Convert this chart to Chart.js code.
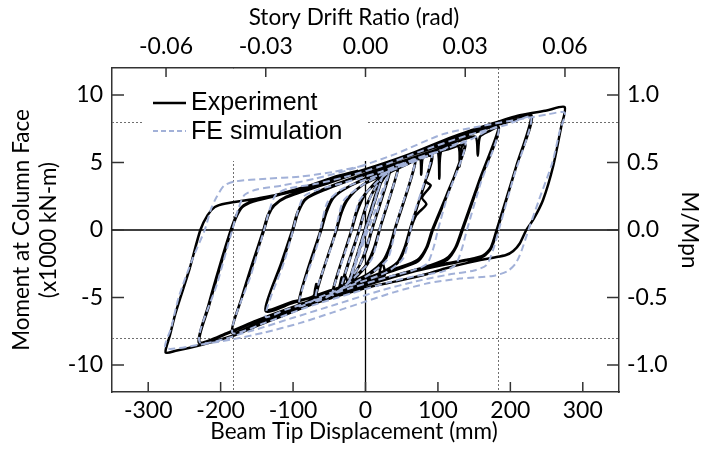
<!DOCTYPE html>
<html>
<head>
<meta charset="utf-8">
<script src="https://cdn.jsdelivr.net/npm/chart.js@4.4.1/dist/chart.umd.min.js"></script>
<style>
  html, body { margin: 0; padding: 0; background: #fff; }
  #wrap { width: 709px; height: 457px; }
</style>
</head>
<body>
<div id="wrap"><canvas id="c" width="709" height="457"></canvas></div>
<script>
/* Beam-to-column test: moment vs beam tip displacement, experiment vs FE */

// axis ticks
var DISP_TICKS = [-300, -200, -100, 0, 100, 200, 300];       // mm
var DRIFT_TICKS = [-0.06, -0.03, 0, 0.03, 0.06];              // rad
var MOMENT_TICKS = [-10, -5, 0, 5, 10];                       // x1000 kN-m
var RATIO_TICKS = [-1.0, -0.5, 0, 0.5, 1.0];                  // M/Mpn
var BEAM_LENGTH = 4590;   // mm of tip displacement per rad of drift
var MPN = 10;             // x1000 kN-m, M/Mpn = 1.0
var LIMIT_DRIFT = 0.04;   // rad, dotted reference
var LIMIT_RATIO = 0.8;    // M/Mpn, dotted reference

// experiment, [displacement mm, moment x1000 kN-m], in loading order
var expStage1 = [[0,0],[17,3.0],[-17,-3.0],[17,3.1],[-17,-2.9],[23,3.9],[-23,-3.8],[23,3.8],[-23,-3.9]];
var expStage2 = [[0,0.2],[15,2.8],[25,3.8],[34,4.4],[9,0],[1,-1.5],[-8,-2.6],[-20,-3.6],[-34,-4.3],[-9,0],[-1,1.5],[8,2.6],[20,3.7],[34,4.4],
  [9,0.1],[0,-1.5],[-9,-2.7],[-20,-3.6],[-34,-4.4],[-9,-0.1],[-1,1.4],[8,2.6],[20,3.6],[32,4.3]];
var expStage3 = [[46,4.8],[19,0],[12,-1.3],[2,-2.5],[-15,-3.5],[-30,-4.1],[-46,-4.7],[-19,0],[-12,1.3],[-2,2.5],[15,3.6],[30,4.2],[46,4.8],
  [20,0.1],[13,-1.3],[3,-2.5],[-15,-3.6],[-30,-4.2],[-46,-4.8],[-20,-0.1],[-13,1.3],[-3,2.5],[15,3.5],[35,4.3],[55,4.8]];
var expStage4 = [[69,5.1],[40,0],[33,-1.3],[24,-2.3],[5,-3.2],[-25,-4.0],[-50,-4.6],[-69,-5.0],[-40,0],[-33,1.3],[-24,2.3],[-5,3.3],[25,4.1],[50,4.7],[69,5.1],
  [41,0.1],[34,-1.3],[25,-2.4],[5,-3.3],[-25,-4.1],[-50,-4.7],[-69,-5.1],[-41,-0.1],[-34,1.3],[-25,2.3],[-5,3.3],[25,4.2],[55,4.9],[75,5.3]];
var expStage5 = [[92,5.5],[61,0],[54,-1.3],[44,-2.4],[20,-3.2],[-20,-4.0],[-35,-4.3],[-33,-3.5],[-38,-4.4],[-60,-4.8],[-92,-5.4],[-61,0],[-54,1.3],[-44,2.4],[-20,3.3],[20,4.2],[60,5.0],[92,5.5],
  [86,4.1],[83,3.6],[90,3.3],[78,2.4],[84,1.9],[70,1.1],[62,0],[55,-1.3],[45,-2.4],[20,-3.3],[23,-2.4],[26,-3.4],[-20,-4.1],[-60,-4.9],[-92,-5.5],
  [-62,0],[-55,1.3],[-45,2.4],[-20,3.3],[20,4.3],[60,5.1],[75,5.4],[77,4.1],[80,5.5],[100,5.8]];
var expStage6 = [[115,6.0],[138,6.3],[112,2.6],[92,0],[84,-1.3],[72,-2.2],[45,-2.8],[0,-3.6],[-50,-4.5],[-70,-4.8],[-68,-4.0],[-72,-4.9],[-100,-5.3],[-138,-5.9],
  [-115,-2.4],[-100,0],[-93,1.3],[-82,2.3],[-55,3.0],[-10,3.9],[40,4.8],[90,5.6],[100,5.8],[102,3.8],[105,5.9],[128,6.2],[130,4.7],[133,6.2],[138,6.3],
  [113,2.6],[93,0],[85,-1.3],[73,-2.3],[45,-2.9],[0,-3.7],[-30,-4.2],[-28,-3.4],[-25,-4.2],[-50,-4.6],[-100,-5.4],[-138,-6.0],
  [-116,-2.4],[-101,0],[-94,1.3],[-83,2.3],[-55,3.1],[-10,4.0],[40,4.9],[90,5.8],[130,6.6],[152,6.9],[155,5.5],[158,6.9],[170,7.3]];
var expStage7 = [[184,7.6],[158,3.8],[133,0],[124,-1.3],[112,-2.1],[90,-2.6],[45,-3.3],[0,-4.0],[-50,-4.9],[-100,-5.8],[-145,-6.8],[-184,-7.6],
  [-172,-5.2],[-156,-2.6],[-140,0],[-134,1.1],[-126,1.8],[-110,2.4],[-50,3.5],[0,4.4],[50,5.3],[100,6.2],[140,7.0],[184,7.6],
  [159,3.8],[134,0],[125,-1.3],[113,-2.2],[90,-2.7],[45,-3.4],[0,-4.1],[-50,-5.0],[-100,-5.9],[-145,-6.9],[-184,-7.65],
  [-172,-5.2],[-157,-2.6],[-141,0],[-135,1.1],[-127,1.8],[-110,2.45],[-50,3.6],[0,4.5],[50,5.4],[100,6.4],[150,7.4],[190,7.9],[210,8.2]];
var expStage8 = [[229,8.45],[208,4.7],[181,0],[173,-1.3],[162,-1.9],[140,-2.2],[110,-2.5],[60,-3.1],[0,-4.0],[-50,-4.8],[-100,-5.7],[-150,-6.7],[-190,-7.6],[-229,-8.3],
  [-216,-5.6],[-200,-2.6],[-185,0],[-178,1.0],[-170,1.7],[-155,2.1],[-130,2.45],[-60,3.5],[0,4.4],[60,5.5],[120,6.8],[170,7.7],[229,8.5],
  [208,4.7],[182,0],[174,-1.3],[163,-1.95],[140,-2.25],[110,-2.55],[60,-3.15],[0,-4.05],[-50,-4.85],[-100,-5.75],[-150,-6.75],[-190,-7.65],[-230,-8.35],
  [-217,-5.6],[-201,-2.6],[-186,0],[-179,1.0],[-171,1.7],[-156,2.15],[-130,2.5],[-60,3.55],[0,4.5],[60,5.6],[120,6.9],[170,7.8],[213,8.5],[250,8.85]];
var expStage9 = [[275,9.1],[270,7.6],[259,4.7],[245,2.2],[232,0.8],[222,0],[213,-1.0],[204,-1.55],[194,-1.85],[176,-2.05],[144,-2.4],[110,-2.85],[89,-3.2],
  [47,-3.75],[0,-4.3],[-68,-5.4],[-114,-6.35],[-147,-7.05],[-184,-7.85],[-230,-8.55],[-262,-8.95],[-276,-9.07],
  [-270,-7.8],[-262,-6.1],[-243,-2.9],[-228,0],[-218,1.1],[-208,1.7],[-193,1.96],[-147,2.35],[-101,2.85],[-45,3.9],[-10,4.4]];

// FE simulation, same protocol
var feStage1 = [[0,0],[17,3.0],[-17,-3.0],[23,3.9],[-23,-3.9],[34,4.5]];
var feStage2 = [[10,0.3],[2,-1.2],[-10,-2.8],[-34,-4.4],[-10,-0.3],[-2,1.2],[10,2.8],[28,4.2],[46,4.8],[22,0.6],[16,-0.8],[8,-2.2],[-15,-3.5],[-30,-4.2],[-46,-4.8],
  [-22,-0.6],[-16,0.8],[-8,2.2],[15,3.5],[30,4.2],[50,4.8]];
var feStage3 = [[69,5.2],[44,0.7],[38,-0.8],[30,-2.2],[5,-3.3],[-30,-4.3],[-69,-5.2],[-44,-0.7],[-38,0.8],[-30,2.2],[-5,3.3],[30,4.3],[60,5.0],[75,5.3]];
var feStage4 = [[92,5.6],[66,1.0],[60,-0.6],[52,-2.1],[30,-3.1],[-20,-4.1],[-60,-4.9],[-92,-5.6],[-66,-1.0],[-60,0.6],[-52,2.1],[-30,3.1],[20,4.1],[60,4.9],[100,5.8]];
var feStage5 = [[138,6.5],[112,2.3],[100,0],[94,-1.3],[85,-2.5],[65,-3.0],[30,-3.5],[-20,-4.3],[-70,-5.2],[-110,-5.9],[-138,-6.4],
  [-112,-2.3],[-100,0],[-94,1.3],[-85,2.5],[-65,3.0],[-30,3.5],[20,4.3],[70,5.3],[110,6.0],[145,6.7]];
var feStage6 = [[184,7.6],[158,3.3],[140,0],[133,-1.4],[124,-2.6],[105,-3.1],[70,-3.4],[30,-3.9],[-20,-4.7],[-80,-5.7],[-140,-6.9],[-184,-7.6],
  [-158,-3.3],[-140,0],[-133,1.4],[-124,2.6],[-105,3.1],[-70,3.4],[-30,3.9],[20,4.7],[80,5.9],[140,7.0],[195,7.8]];
var feStage7 = [[229,8.35],[205,4.0],[184,0],[176,-1.5],[167,-2.6],[150,-3.0],[115,-3.3],[70,-3.8],[20,-4.5],[-40,-5.5],[-100,-6.5],[-160,-7.5],[-229,-8.3],
  [-205,-4.0],[-184,0],[-176,1.5],[-167,2.6],[-150,3.0],[-115,3.3],[-70,3.8],[-20,4.5],[40,5.6],[107,7.1],[160,7.7],[229,8.35]];
var feStage8 = [[250,8.55],[275,8.7],[268,7.3],[258,5.0],[240,2.3],[225,0],[215,-1.6],[207,-2.5],[196,-3.05],[176,-3.4],[130,-3.6],[86,-3.95],[40,-4.6],
  [0,-5.3],[-45,-6.1],[-91,-6.9],[-140,-7.6],[-184,-8.1],[-230,-8.5],[-276,-8.75],
  [-268,-7.2],[-258,-5.0],[-240,-2.3],[-222,0],[-213,1.6],[-205,2.5],[-195,3.3],[-180,3.6],[-137,3.8],[-91,3.95],[-45,4.3],[0,4.8]];

function toPoints(stages) {
  var out = [];
  stages.forEach(function (s) { s.forEach(function (p) { out.push({ x: p[0], y: p[1] }); }); });
  return out;
}

var expPoints = toPoints([expStage1, expStage2, expStage3, expStage4, expStage5, expStage6, expStage7, expStage8, expStage9]);
var fePoints = toPoints([feStage1, feStage2, feStage3, feStage4, feStage5, feStage6, feStage7, feStage8]);

var TICK_FONT = { family: "Lato", size: 23 };
var TITLE_FONT = { family: "Lato", size: 22.5 };
var LEGEND_FONT = '25px "Liberation Sans"';
var FE_COLOR = "#a2b1d8";

function fixedTicks(list) {
  return function (scale) { scale.ticks = list.map(function (v) { return { value: v }; }); };
}

// reference lines, zero lines, legend backdrop, inward ticks, legend
var decor = {
  id: "decor",
  beforeDatasetsDraw: function (chart) {
    var ctx = chart.ctx, a = chart.chartArea, sx = chart.scales.x, sy = chart.scales.y;
    function seg(x1, y1, x2, y2) { ctx.beginPath(); ctx.moveTo(x1, y1); ctx.lineTo(x2, y2); ctx.stroke(); }
    ctx.save();
    ctx.strokeStyle = "#6f6f6f"; ctx.lineWidth = 1; ctx.setLineDash([2, 2]);
    [-1, 1].forEach(function (k) {
      var px = Math.round(sx.getPixelForValue(k * LIMIT_DRIFT * BEAM_LENGTH)) + 0.5;
      seg(px, a.top, px, a.bottom);
      var py = Math.round(sy.getPixelForValue(k * LIMIT_RATIO * MPN)) + 0.5;
      seg(a.left, py, a.right, py);
    });
    ctx.setLineDash([]); ctx.strokeStyle = "#000"; ctx.lineWidth = 1.3;
    var x0 = sx.getPixelForValue(0), y0 = sy.getPixelForValue(0);
    seg(x0, a.top, x0, a.bottom);
    seg(a.left, y0, a.right, y0);
    // legend box hides the guide lines behind it
    ctx.fillStyle = "#fff";
    ctx.fillRect(142, a.top + 1, 226, 92);
    ctx.restore();
  },
  afterDatasetsDraw: function (chart) {
    var ctx = chart.ctx, a = chart.chartArea, s = chart.scales;
    ctx.save();
    ctx.strokeStyle = "#333"; ctx.lineWidth = 1.5;
    function seg(x1, y1, x2, y2) { ctx.beginPath(); ctx.moveTo(x1, y1); ctx.lineTo(x2, y2); ctx.stroke(); }
    s.x.ticks.forEach(function (t) { var p = s.x.getPixelForValue(t.value); seg(p, a.bottom, p, a.bottom - 10); });
    s.x2.ticks.forEach(function (t) { var p = s.x2.getPixelForValue(t.value); seg(p, a.top, p, a.top + 9); });
    s.y.ticks.forEach(function (t) { var p = s.y.getPixelForValue(t.value); seg(a.left, p, a.left + 12, p); });
    s.y2.ticks.forEach(function (t) { var p = s.y2.getPixelForValue(t.value); seg(a.right, p, a.right - 12, p); });

    // legend
    ctx.lineWidth = 2.5; ctx.strokeStyle = "#000";
    seg(153, 103, 186, 103);
    ctx.lineWidth = 2; ctx.strokeStyle = FE_COLOR; ctx.setLineDash([5, 3]);
    seg(153, 131, 186, 131);
    ctx.setLineDash([]);
    ctx.fillStyle = "#000"; ctx.font = LEGEND_FONT; ctx.textBaseline = "middle"; ctx.textAlign = "left";
    ctx.fillText(chart.data.datasets[0].label, 191, 103);
    ctx.fillText(chart.data.datasets[1].label, 191, 132);
    ctx.restore();
  }
};

var axisBorder = { display: true, color: "#333", width: 1.5 };

new Chart(document.getElementById("c"), {
  type: "line",
  data: {
    datasets: [
      { label: "Experiment", data: expPoints, borderColor: "#000", borderWidth: 2.5, pointRadius: 0, tension: 0.25, fill: false, order: 2 },
      { label: "FE simulation", data: fePoints, borderColor: FE_COLOR, borderWidth: 2, borderDash: [7, 4], pointRadius: 0, tension: 0.25, fill: false, order: 1 }
    ]
  },
  options: {
    responsive: false, animation: false, devicePixelRatio: 1,
    layout: { padding: 0 },
    plugins: { legend: { display: false }, tooltip: { enabled: false } },
    scales: {
      x: {
        type: "linear", position: "bottom", min: -350, max: 350,
        afterFit: function (sc) { sc.height = 65; },
        afterBuildTicks: fixedTicks(DISP_TICKS),
        grid: { display: false, drawTicks: false }, border: axisBorder,
        ticks: { padding: 5, color: "#000", font: TICK_FONT, maxRotation: 0, autoSkip: false, callback: function (v) { return String(v); } },
        // trailing spaces nudge the centred title a little left, as in the source figure
        title: { display: true, text: "Beam Tip Displacement (mm)    ", color: "#000", font: TITLE_FONT, padding: { top: 0, bottom: 12 } }
      },
      x2: {
        type: "linear", position: "top", min: -350 / BEAM_LENGTH, max: 350 / BEAM_LENGTH,
        afterFit: function (sc) { sc.height = 68; },
        afterBuildTicks: fixedTicks(DRIFT_TICKS),
        grid: { display: false, drawTicks: false }, border: axisBorder,
        ticks: { padding: 8, color: "#000", font: TICK_FONT, maxRotation: 0, autoSkip: false, callback: function (v) { return v.toFixed(2); } },
        title: { display: true, text: "Story Drift Ratio (rad)    ", color: "#000", font: TITLE_FONT, padding: { top: 4, bottom: 0 } }
      },
      y: {
        type: "linear", position: "left", min: -12, max: 12,
        afterFit: function (sc) { sc.width = 112; },
        afterBuildTicks: fixedTicks(MOMENT_TICKS),
        grid: { display: false, drawTicks: false }, border: axisBorder,
        ticks: { padding: 9, color: "#000", font: TICK_FONT, autoSkip: false, callback: function (v) { return String(v); } },
        title: { display: true, text: ["Moment at Column Face", "(x1000 kN-m)"], color: "#000", font: { family: "Lato", size: 22.5, lineHeight: 1.2 }, padding: { top: 8, bottom: 0 } }
      },
      y2: {
        type: "linear", position: "right", min: -1.2, max: 1.2,
        afterFit: function (sc) { sc.width = 90; },
        afterBuildTicks: fixedTicks(RATIO_TICKS),
        grid: { display: false, drawTicks: false }, border: axisBorder,
        ticks: { padding: 8, color: "#000", font: TICK_FONT, autoSkip: false, callback: function (v) { return v.toFixed(1); } },
        title: { display: true, text: "M/Mpn", color: "#000", font: TITLE_FONT, padding: { top: 6, bottom: 0 } }
      }
    }
  },
  plugins: [decor]
});
</script>
</body>
</html>
